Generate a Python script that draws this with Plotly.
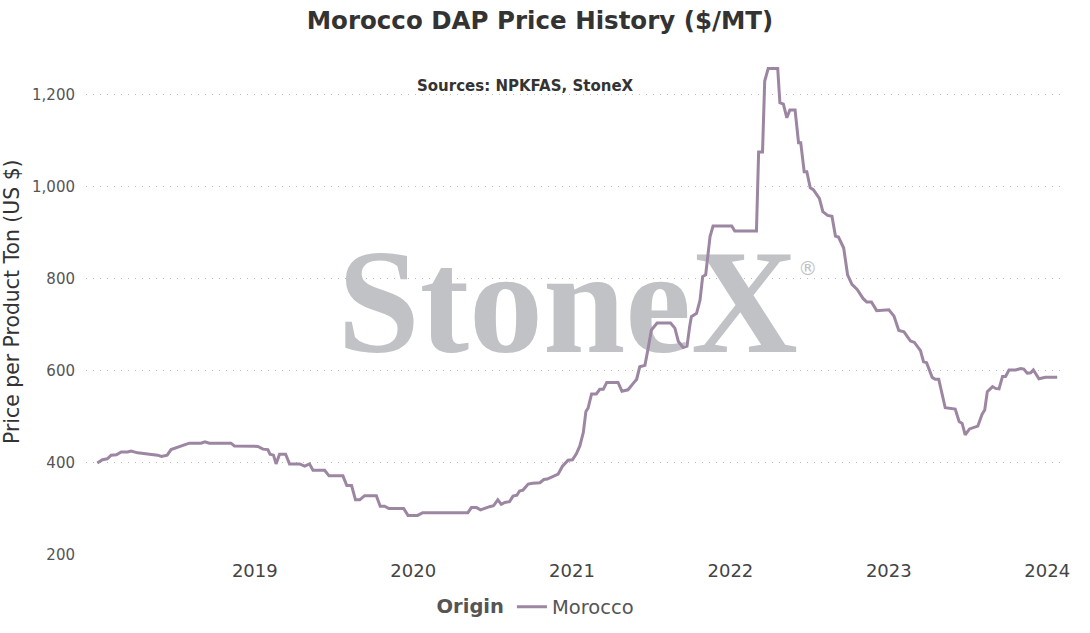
import plotly.graph_objects as go

# Morocco DAP weekly price history, $/MT
dates = [
    '2018-01-03', '2018-01-15', '2018-01-26', '2018-02-04', '2018-02-16', '2018-02-27',
    '2018-03-14', '2018-03-22', '2018-04-06', '2018-04-21', '2018-05-07', '2018-05-22',
    '2018-05-31', '2018-06-13', '2018-06-22', '2018-07-04', '2018-07-15', '2018-07-23',
    '2018-08-03', '2018-08-30', '2018-09-08', '2018-09-18', '2018-11-07', '2018-11-15',
    '2019-01-08', '2019-01-20', '2019-01-31', '2019-02-05', '2019-02-13', '2019-02-19',
    '2019-02-27', '2019-03-13', '2019-03-22', '2019-04-14', '2019-04-26', '2019-05-07',
    '2019-05-15', '2019-06-11', '2019-06-21', '2019-07-23', '2019-08-01', '2019-08-12',
    '2019-08-21', '2019-08-31', '2019-09-11', '2019-10-08', '2019-10-17', '2019-10-27',
    '2019-11-06', '2019-12-10', '2019-12-20', '2020-01-11', '2020-01-23', '2020-05-06',
    '2020-05-14', '2020-05-26', '2020-06-04', '2020-06-25', '2020-07-04', '2020-07-14',
    '2020-07-22', '2020-07-30', '2020-08-10', '2020-08-18', '2020-08-27', '2020-09-02',
    '2020-09-10', '2020-09-22', '2020-10-02', '2020-10-19', '2020-10-28', '2020-11-05',
    '2020-11-15', '2020-11-30', '2020-12-10', '2020-12-23', '2021-01-02', '2021-01-11',
    '2021-01-19', '2021-01-27', '2021-02-02', '2021-02-07', '2021-02-15', '2021-02-26',
    '2021-03-06', '2021-03-14', '2021-03-22', '2021-04-17', '2021-04-26', '2021-05-10',
    '2021-05-22', '2021-05-30', '2021-06-06', '2021-06-18', '2021-06-25', '2021-07-03',
    '2021-07-16', '2021-08-16', '2021-08-26', '2021-09-03', '2021-09-14', '2021-09-23',
    '2021-09-29', '2021-10-03', '2021-10-15', '2021-10-23', '2021-10-29', '2021-11-05',
    '2021-11-15', '2021-11-22', '2022-01-04', '2022-01-11', '2022-03-02', '2022-03-07',
    '2022-03-16', '2022-03-21', '2022-03-29', '2022-04-20', '2022-04-25', '2022-05-03',
    '2022-05-11', '2022-05-18', '2022-05-30', '2022-06-07', '2022-06-12', '2022-06-20',
    '2022-06-26', '2022-07-04', '2022-07-11', '2022-07-25', '2022-08-02', '2022-08-13',
    '2022-08-23', '2022-08-31', '2022-09-07', '2022-09-19', '2022-09-28', '2022-10-08',
    '2022-10-20', '2022-11-03', '2022-11-11', '2022-11-22', '2022-12-04', '2023-01-01',
    '2023-01-13', '2023-01-24', '2023-02-05', '2023-02-20', '2023-03-01', '2023-03-15',
    '2023-03-22', '2023-03-29', '2023-04-11', '2023-04-18', '2023-04-26', '2023-05-06',
    '2023-05-11', '2023-06-03', '2023-06-12', '2023-06-19', '2023-06-26', '2023-07-06',
    '2023-07-16', '2023-07-25', '2023-08-04', '2023-08-10', '2023-08-16', '2023-08-28',
    '2023-09-04', '2023-09-12', '2023-09-20', '2023-09-27', '2023-10-05', '2023-10-20',
    '2023-11-01', '2023-11-08', '2023-11-16', '2023-11-24', '2023-11-30', '2023-12-13',
    '2023-12-28', '2024-01-09', '2024-01-24',
]
prices = [
    400, 407, 409, 417, 418, 424,
    424, 426, 422, 420, 418, 417,
    414, 417, 429, 433, 438, 440,
    443, 443, 446, 443, 443, 437,
    436, 430, 429, 419, 417, 398,
    419, 419, 398, 398, 393, 398,
    384, 384, 372, 372, 351, 351,
    320, 320, 329, 329, 306, 306,
    301, 301, 286, 286, 292, 292,
    303, 303, 298, 305, 307, 320,
    310, 314, 316, 328, 330, 339,
    341, 354, 356, 357, 364, 365,
    370, 376, 393, 406, 407, 420,
    437, 466, 512, 519, 550, 550,
    560, 560, 575, 575, 556, 559,
    573, 582, 609, 612, 647, 689,
    704, 704, 693, 664, 651, 654,
    696, 718, 725, 754, 805, 809,
    892, 915, 915, 904, 904, 1076,
    1076, 1230, 1257, 1257, 1183, 1180,
    1150, 1167, 1167, 1096, 1096, 1033,
    1033, 998, 994, 975, 946, 938,
    936, 893, 891, 867, 809, 788,
    777, 757, 750, 750, 731, 733,
    719, 688, 685, 665, 662, 644,
    620, 618, 586, 582, 582, 537,
    520, 517, 490, 486, 461, 474,
    477, 480, 506, 515, 555, 566,
    562, 561, 588, 588, 602, 602,
    605, 604, 595, 596, 602, 583,
    586, 586, 586,
]
year_ticks = ['2019-01-01', '2020-01-01', '2021-01-01', '2022-01-01', '2023-01-01', '2024-01-01']
year_labels = ['2019', '2020', '2021', '2022', '2023', '2024']
price_ticks = [200, 400, 600, 800, 1000, 1200]

FONT = 'Verdana, DejaVu Sans, sans-serif'

fig = go.Figure()

# StoneX watermark sits behind the price line
fig.add_trace(go.Scatter(
    x=['2020-12-22'], y=[721], mode='text', text=['<b>StoneX</b>'],
    textfont=dict(family='Liberation Serif, Times New Roman, serif', size=148, color='#c1c2c6'),
    hoverinfo='skip', showlegend=False,
))
fig.add_trace(go.Scatter(
    x=['2022-06-28'], y=[818], mode='text', text=['®'],
    textfont=dict(family='DejaVu Sans, sans-serif', size=19, color='#c1c2c6'),
    hoverinfo='skip', showlegend=False,
))

fig.add_trace(go.Scatter(
    x=dates, y=prices, mode='lines', name='Morocco',
    line=dict(color='#9c86a2', width=3),
))

fig.update_layout(
    width=1090, height=633,
    margin=dict(l=86, r=25, t=58, b=78),
    paper_bgcolor='white', plot_bgcolor='white',
    font=dict(family=FONT, color='#444'),
    title=dict(text='<b>Morocco DAP Price History ($/MT)</b>', x=0.4954, xanchor='center',
               y=1 - 20 / 633, yanchor='middle', font=dict(size=24.5, color='#333')),
    legend=dict(orientation='h', x=0.356, xanchor='left', yref='container',
                y=26 / 633, yanchor='middle',
                title=dict(text='<b>Origin</b>', font=dict(size=19.5, color='#555')),
                font=dict(size=19.5, color='#555')),
    annotations=[
        dict(text='<b>Sources: NPKFAS, StoneX</b>', xref='paper', yref='paper',
             x=0.4494, y=0.9437, xanchor='center', yanchor='middle', showarrow=False,
             font=dict(size=15, color='#333')),
        # y-axis title
        dict(text='Price per Product Ton (US $)', xref='paper', yref='paper',
             x=-0.0756, y=0.511, xanchor='center', yanchor='middle', textangle=-90,
             showarrow=False, font=dict(size=20.4, color='#333')),
    ],
)
fig.update_xaxes(range=['2017-12-08', '2024-02-11'], showgrid=False, zeroline=False,
                 showline=False, tickvals=year_ticks, ticktext=year_labels, ticks='',
                 automargin=False, ticklabelstandoff=3, tickfont=dict(size=18, color='#444'))
fig.update_yaxes(range=[200, 1280], tickvals=price_ticks,
                 tickformat=',', showgrid=True, gridcolor='#bdbdbd', griddash='1px,6px',
                 gridwidth=1, zeroline=False, showline=False, automargin=False,
                 ticklabelstandoff=10, tickfont=dict(size=15, color='#555'))

# drop the browser's default 8px body margin so the figure fills the window
fig.write_html('out.html', config={'displayModeBar': False},
               post_script="document.body.style.margin = '0';")
